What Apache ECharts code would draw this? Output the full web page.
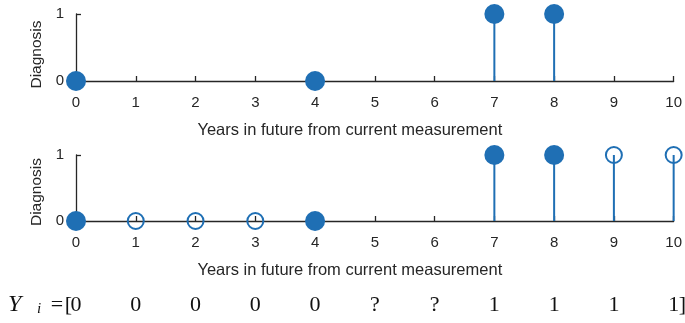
<!DOCTYPE html>
<html>
<head>
<meta charset="utf-8">
<script src="https://cdn.jsdelivr.net/npm/echarts@6/dist/echarts.min.js"></script>
<style>
  html, body { margin: 0; padding: 0; background: #fff; }
  #chart { width: 685px; height: 323px; }
</style>
</head>
<body>
<div id="chart"></div>
<script>
// Years after the current measurement
const years = [0, 1, 2, 3, 4, 5, 6, 7, 8, 9, 10];
// Observed diagnoses (null = no visit that year)
const observedDiag = [0, null, null, null, 0, null, null, 1, 1, null, null];
// Filled-in diagnoses for the lower panel (null = not filled)
const imputedDiag = [null, 0, 0, 0, null, null, null, null, null, 1, 1];
// Label vector written under the lower panel
const labelVector = ['0', '0', '0', '0', '0', '?', '?', '1', '1', '1', '1'];

const xTitle = 'Years in future from current measurement';
const yTitle = 'Diagnosis';

const BLUE = '#1f6fb4';
const INK = '#262626';
const SANS = 'Liberation Sans, Arial, sans-serif';
const SERIF = 'Liberation Serif, serif';

function pairs(values) {
  const out = [];
  values.forEach((v, i) => { if (v !== null) out.push([years[i], v]); });
  return out;
}

function xAxisFor(gridIndex) {
  return {
    gridIndex, type: 'value', min: 0, max: 10, interval: 1,
    name: xTitle, nameLocation: 'middle', nameGap: 41,
    nameTextStyle: { color: INK, fontFamily: SANS, fontSize: 16.5, padding: [0, 50, 0, 0] },
    axisLine: { onZero: false, lineStyle: { color: INK, width: 1.3 } },
    axisTick: { inside: true, length: 5, lineStyle: { color: INK, width: 1.3 } },
    axisLabel: { color: INK, fontFamily: SANS, fontSize: 15, margin: 14 },
    splitLine: { show: false }
  };
}

function yAxisFor(gridIndex, shift) {
  return {
    gridIndex, type: 'value', min: 0, max: 1, interval: 1,
    name: yTitle, nameLocation: 'middle', nameGap: 30, nameRotate: 90,
    nameTextStyle: {
      color: INK, fontFamily: SANS, fontSize: 15.5,
      padding: [0, shift * 2, 0, 0]
    },
    axisLine: { show: true, lineStyle: { color: INK, width: 1.3 } },
    axisTick: { show: true, inside: true, length: 5, lineStyle: { color: INK, width: 1.3 } },
    axisLabel: { color: INK, fontFamily: SANS, fontSize: 15, margin: 12 },
    splitLine: { show: false }
  };
}

function stems(values, gridIndex) {
  return {
    type: 'bar', xAxisIndex: gridIndex, yAxisIndex: gridIndex,
    data: pairs(values), barWidth: 2, barGap: '-100%', silent: true,
    itemStyle: { color: BLUE, opacity: 1 }, z: 2
  };
}

function heads(values, gridIndex, filled) {
  return {
    type: 'scatter', xAxisIndex: gridIndex, yAxisIndex: gridIndex,
    data: pairs(values), clip: false, silent: true,
    symbol: 'circle', symbolSize: filled ? 20 : 16,
    itemStyle: filled
      ? { color: BLUE, opacity: 1 }
      : { color: 'rgba(255,255,255,0)', borderColor: BLUE, borderWidth: 2, opacity: 1 },
    z: 3
  };
}

const chart = echarts.init(document.getElementById('chart'), null, { renderer: 'canvas' });
chart.setOption({
  animation: false,
  backgroundColor: '#ffffff',
  grid: [
    { left: 76, right: 9, top: 14, height: 67 },
    { left: 76, right: 9, top: 155, height: 66 }
  ],
  xAxis: [xAxisFor(0), xAxisFor(1)],
  yAxis: [yAxisFor(0, 7), yAxisFor(1, 4)],
  series: [
    stems(observedDiag, 0),
    heads(observedDiag, 0, true),
    stems(observedDiag, 1),
    stems(imputedDiag, 1),
    heads(observedDiag, 1, true),
    heads(imputedDiag, 1, false)
  ]
});

// Vector of labels under the lower panel, each entry centred on its year
const rowY = 305;
const mathStyle = { fontFamily: SERIF, fontSize: 22, fill: '#111', verticalAlign: 'middle' };
const texts = [];
const firstX = chart.convertToPixel({ xAxisIndex: 1 }, years[0]);
const lastX = chart.convertToPixel({ xAxisIndex: 1 }, years[years.length - 1]);
texts.push({ type: 'text', x: firstX - 68, y: rowY,
  style: Object.assign({}, mathStyle, { text: 'Y', fontStyle: 'italic', fontSize: 24, align: 'left' }) });
texts.push({ type: 'text', x: firstX - 39, y: rowY + 4,
  style: Object.assign({}, mathStyle, { text: 'i', fontStyle: 'italic', fontSize: 15, align: 'left' }) });
texts.push({ type: 'text', x: firstX - 19, y: rowY,
  style: Object.assign({}, mathStyle, { text: '=', align: 'center' }) });
texts.push({ type: 'text', x: firstX - 4, y: rowY,
  style: Object.assign({}, mathStyle, { text: '[', align: 'right' }) });
labelVector.forEach((lab, i) => {
  const px = chart.convertToPixel({ xAxisIndex: 1 }, years[i]);
  texts.push({ type: 'text', x: px, y: rowY,
    style: Object.assign({}, mathStyle, { text: lab, align: 'center' }) });
});
texts.push({ type: 'text', x: lastX + 5, y: rowY,
  style: Object.assign({}, mathStyle, { text: ']', align: 'left' }) });
chart.setOption({ graphic: { elements: texts } });
</script>
</body>
</html>
